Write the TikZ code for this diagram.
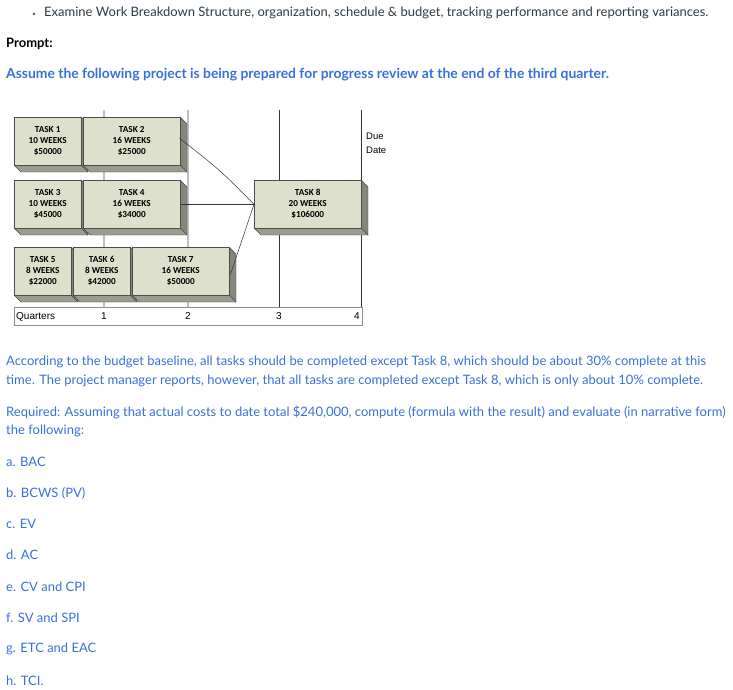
\documentclass[tikz,border=0pt]{standalone}
\usepackage{fontspec}
\setmainfont{Lato}
\newfontfamily\carl{Carlito}
\newfontfamily\arialf{Liberation Sans}
\definecolor{blu}{HTML}{3A6FDE}
\definecolor{txt}{HTML}{2D3B45}
\definecolor{boxf}{HTML}{DDE0CB}
\definecolor{boxs}{HTML}{85877A}
\definecolor{boxb}{HTML}{9A9C8E}
\begin{document}
\begin{tikzpicture}[x=1pt,y=-1pt,
  para/.style={anchor=west,inner sep=0,font=\fontsize{13}{15}\selectfont,text=txt},
  bpara/.style={para,text=blu},
  task/.style={draw=black!70,fill=boxf,line width=0.5pt,anchor=north west,inner sep=0,align=center,font=\carl\bfseries\fontsize{9.2}{11}\selectfont},
  qline/.style={line width=1.2pt,black!25},
  dline/.style={line width=0.7pt,black!80},
  conn/.style={line width=0.5pt,black!80}]
\useasboundingbox (0,0) rectangle (733,690);
% text
\node[circle,fill=txt,inner sep=0,minimum size=2.5pt] (bul) at (34,14) {};
\node[para] (t0) at (44,13) {Examine Work Breakdown Structure, organization, schedule \& budget, tracking performance and reporting variances.};
\node[para,font=\bfseries\fontsize{13}{15}\selectfont,text=black] (t1) at (6,44) {Prompt:};
\node[para,font=\bfseries\fontsize{13.9}{15}\selectfont,text=blu] (t2) at (6,75) {Assume the following project is being prepared for progress review at the end of the third quarter.};
% quarter lines
\foreach \x/\n in {104/q1,188/q2}{\draw[qline] (\x,110) -- (\x,307);}
\foreach \x/\n in {279/q3,361/q4}{\draw[dline] (\x,110) -- (\x,307);}
% boxes
\newcommand{\tbox}[7]{% name, x1,y1,x2,y2, text
  \fill[boxs,draw=black!70,line width=0.4pt] (#3,#4) -- (#3+7,#4+7) -- (#3+7,#5+7) -- (#3,#5) -- cycle;
  \fill[boxb,draw=black!70,line width=0.4pt] (#2,#5) -- (#2+7,#5+7) -- (#3+7,#5+7) -- (#3,#5) -- cycle;
  \node[task,minimum width=#3pt-#2pt,minimum height=#5pt-#4pt] (#1) at (#2,#4) {#6};
}
\tbox{k1}{14}{81}{117}{165}{TASK 1\\10 WEEKS\\\$50000}{}
\tbox{k2}{83}{180}{117}{165}{TASK 2\\16 WEEKS\\\$25000}{}
\tbox{k3}{14}{81}{180}{228}{TASK 3\\10 WEEKS\\\$45000}{}
\tbox{k4}{83}{180}{180}{228}{TASK 4\\16 WEEKS\\\$34000}{}
\tbox{k5}{14}{71}{247}{295}{TASK 5\\8 WEEKS\\\$22000}{}
\tbox{k6}{73}{130}{247}{295}{TASK 6\\8 WEEKS\\\$42000}{}
\tbox{k7}{132}{229}{247}{295}{TASK 7\\16 WEEKS\\\$50000}{}
\tbox{k8}{254}{361}{180}{228}{TASK 8\\20 WEEKS\\\$106000}{}
\draw[conn] (k2.east) ++(-1,-3) coordinate (c2) .. controls (220,170) .. (k8.west);
\draw[conn] (k4.east) -- (k8.west);
\draw[conn] (k7.east) ++(1,3) coordinate (c7) -- (k8.west);
\node[anchor=north west,align=left,inner sep=0,font=\arialf\fontsize{9.5}{14}\selectfont] (due) at (366,133) {Due\\Date};
% quarters bar
\draw[black!45,line width=0.6pt] (14,307) rectangle (362,325);
\node[anchor=west,inner sep=0,font=\arialf\fontsize{10}{10}\selectfont] (qq) at (16,316.5) {Quarters};
\foreach \x/\l in {104/1,188/2,279/3,357/4}{\node[inner sep=0,font=\arialf\fontsize{10}{10}\selectfont] at (\x,316.5) {\l};}
% paragraphs
\node[bpara] (p1) at (6,362) {According to the budget baseline, all tasks should be completed except Task 8, which should be about 30\% complete at this};
\node[bpara] (p2) at (6,381) {time. The project manager reports, however, that all tasks are completed except Task 8, which is only about 10\% complete.};
\node[bpara] (p3) at (6,412) {Required: Assuming that actual costs to date total \$240,000, compute (formula with the result) and evaluate (in narrative form)};
\node[bpara] (p4) at (6,431) {the following:};
\foreach \y/\s in {462/a. BAC,493/b. BCWS (PV),524/c. EV,555/d. AC,587/e. CV and CPI,618/f. SV and SPI,649/g. ETC and EAC,681/h. TCI.}{\node[bpara] at (6,\y) {\s};}
\end{tikzpicture}
\end{document}
